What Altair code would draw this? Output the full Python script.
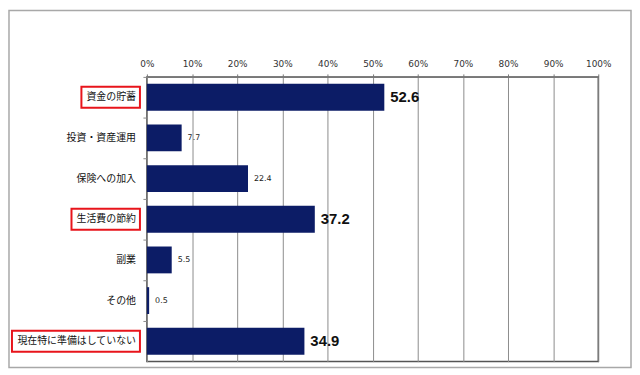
import altair as alt
import pandas as pd

categories = ["資金の貯蓄", "投資・資産運用", "保険への加入", "生活費の節約", "副業", "その他", "現在特に準備はしていない"]
values = [52.6, 7.7, 22.4, 37.2, 5.5, 0.5, 34.9]
highlighted = [True, False, False, True, False, False, True]
x_ticks = [0, 10, 20, 30, 40, 50, 60, 70, 80, 90, 100]

W, H = 455, 287
LABEL_X = -11
FONT_JP = "Noto Sans CJK JP"
LABEL_SIZE = 10

df = pd.DataFrame({
    "category": categories,
    "value": values,
    "hl": highlighted,
    "txt": [f"{v:.1f}" for v in values],
})
df["bx"] = [LABEL_X - len(c) * LABEL_SIZE - 5 for c in categories]
df["bx2"] = -7

y_enc = alt.Y(
    "category:N",
    sort=categories,
    scale=alt.Scale(paddingInner=0.34, paddingOuter=0.17),
    axis=alt.Axis(
        title=None, labels=False, domainColor="#888888", tickColor="#888888",
        tickSize=4, tickOffset=-H / 7 / 2,
    ),
)
x_scale = alt.Scale(domain=[0, 100], nice=False)
x_enc = alt.X(
    "value:Q",
    scale=x_scale,
    axis=alt.Axis(
        orient="top", title=None, values=x_ticks, labelExpr="datum.value + '%'",
        grid=True, gridColor="#8c8c8c", domainColor="#777777", tickColor="#777777",
        tickSize=3, labelPadding=5, labelFont="DejaVu Sans", labelFontSize=9,
        labelColor="#333333", labelFlush=False, labelOverlap=False,
    ),
)
y_plain = alt.Y("category:N", sort=categories)

base = alt.Chart(df)

border = alt.Chart(alt.Data(values=[{"a": 1}])).mark_rect(
    fill=None, stroke="#a8a8a8", strokeWidth=1.5
).encode(
    x=alt.value(-139), x2=alt.value(W + 33), y=alt.value(-67), y2=alt.value(H + 6)
)

bars = base.mark_bar(color="#0c1c66").encode(y=y_enc, x=x_enc)

small_lbl = base.transform_filter("!datum.hl").mark_text(
    align="left", baseline="middle", dx=6, fontSize=8, font="DejaVu Sans", color="#222222"
).encode(y=y_plain, x=alt.X("value:Q", scale=x_scale), text="txt:N")

big_lbl = base.transform_filter("datum.hl").mark_text(
    align="left", baseline="middle", dx=6, fontSize=15, fontWeight="bold",
    font="Liberation Sans", color="#111111"
).encode(y=y_plain, x=alt.X("value:Q", scale=x_scale), text="txt:N")

cat_lbl = base.mark_text(
    align="right", baseline="middle", fontSize=LABEL_SIZE, font=FONT_JP, color="#111111"
).encode(y=y_plain, x=alt.value(LABEL_X), text="category:N")

main = alt.layer(border, bars, small_lbl, big_lbl, cat_lbl)

boxes = base.transform_filter("datum.hl").mark_bar(
    fillOpacity=0, stroke="#e8141b", strokeWidth=2, size=21
).encode(
    y=y_plain,
    x=alt.X("bx:Q", scale=None, axis=None),
    x2="bx2:Q",
)

chart = alt.layer(main, boxes).resolve_scale(
    x="independent"
).properties(
    width=W, height=H,
    autosize=alt.AutoSizeParams(type="none"),
    padding={"left": 140, "top": 68, "right": 34, "bottom": 7},
).configure_view(stroke="#555555", strokeWidth=1.5)

chart.save("out.html", embed_options={"renderer": "svg", "actions": False})
